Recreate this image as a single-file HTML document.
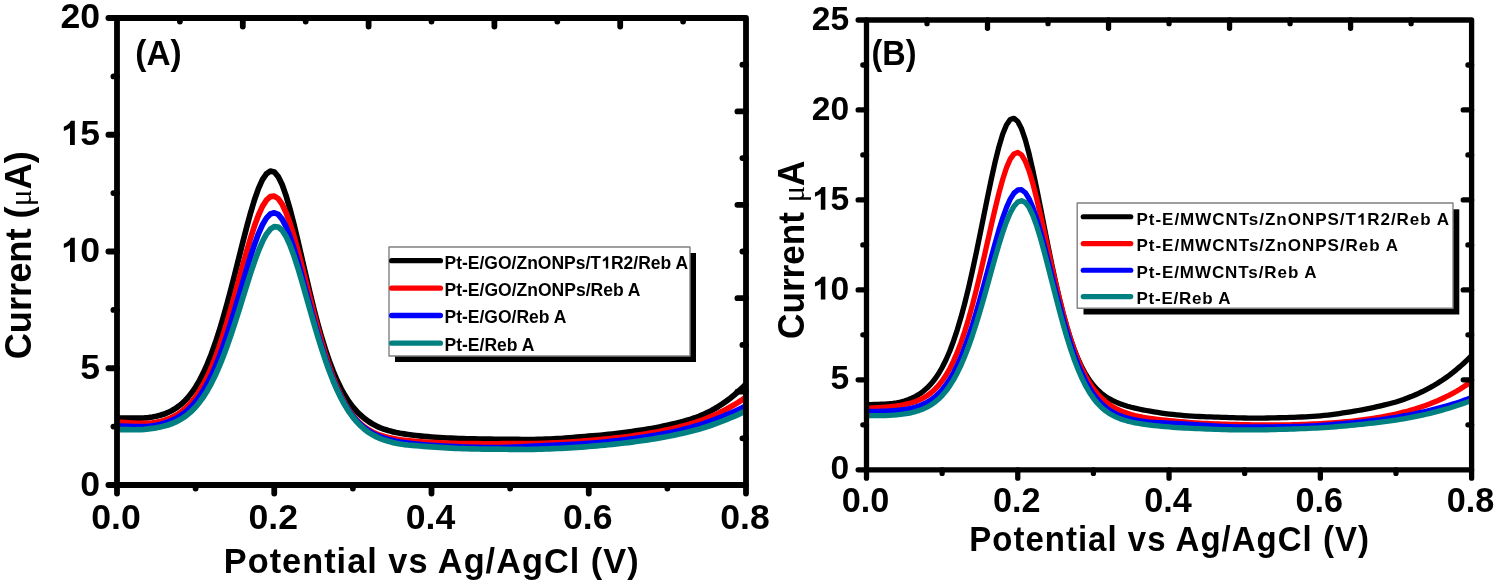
<!DOCTYPE html>
<html><head><meta charset="utf-8"><style>
html,body{margin:0;padding:0;background:#fff;}
body{width:1499px;height:586px;overflow:hidden;}
svg{display:block;will-change:transform;}
</style></head><body>
<svg width="1499" height="586" viewBox="0 0 1499 586">
<rect width="1499" height="586" fill="#fff"/>
<clipPath id="clipA"><rect x="117.0" y="18.0" width="629.0" height="467.0"/></clipPath>
<g clip-path="url(#clipA)" fill="none" stroke-width="5.7" stroke-linejoin="round" stroke-linecap="round">
<path d="M117.00,417.87 L120.93,417.98 L124.86,418.08 L128.79,418.16 L132.72,418.20 L136.66,418.20 L140.59,418.11 L144.52,417.91 L148.45,417.55 L152.38,417.01 L156.31,416.27 L160.24,415.28 L164.18,414.03 L168.11,412.47 L172.04,410.54 L175.97,408.17 L179.90,405.31 L183.83,401.85 L187.76,397.71 L191.69,392.81 L195.62,387.06 L199.56,380.37 L203.49,372.66 L207.42,363.89 L211.35,354.01 L215.28,343.03 L219.21,330.96 L223.14,317.86 L227.08,303.83 L231.01,289.03 L234.94,273.64 L238.87,257.95 L242.80,242.26 L246.73,226.99 L250.66,212.58 L254.59,199.54 L258.52,188.39 L262.46,179.65 L266.39,173.79 L270.32,171.14 L274.25,171.97 L278.18,176.53 L282.11,184.56 L286.04,195.60 L289.97,209.04 L293.91,224.26 L297.84,240.65 L301.77,257.64 L305.70,274.73 L309.63,291.50 L313.56,307.57 L317.49,322.69 L321.43,336.68 L325.36,349.46 L329.29,361.00 L333.22,371.34 L337.15,380.52 L341.08,388.58 L345.01,395.61 L348.94,401.69 L352.88,406.92 L356.81,411.41 L360.74,415.28 L364.67,418.62 L368.60,421.50 L372.53,423.98 L376.46,426.08 L380.39,427.86 L384.32,429.33 L388.26,430.56 L392.19,431.60 L396.12,432.47 L400.05,433.23 L403.98,433.89 L407.91,434.48 L411.84,435.02 L415.77,435.51 L419.71,435.94 L423.64,436.33 L427.57,436.68 L431.50,437.00 L435.43,437.28 L439.36,437.54 L443.29,437.78 L447.22,437.99 L451.16,438.18 L455.09,438.35 L459.02,438.51 L462.95,438.64 L466.88,438.76 L470.81,438.87 L474.74,438.96 L478.67,439.04 L482.61,439.11 L486.54,439.16 L490.47,439.20 L494.40,439.23 L498.33,439.26 L502.26,439.27 L506.19,439.29 L510.12,439.32 L514.06,439.37 L517.99,439.44 L521.92,439.52 L525.85,439.56 L529.78,439.56 L533.71,439.52 L537.64,439.44 L541.58,439.34 L545.51,439.22 L549.44,439.08 L553.37,438.91 L557.30,438.71 L561.23,438.48 L565.16,438.21 L569.09,437.90 L573.02,437.56 L576.96,437.20 L580.89,436.86 L584.82,436.53 L588.75,436.21 L592.68,435.90 L596.61,435.57 L600.54,435.22 L604.47,434.84 L608.41,434.42 L612.34,433.97 L616.27,433.49 L620.20,433.01 L624.13,432.51 L628.06,432.00 L631.99,431.48 L635.92,430.93 L639.86,430.36 L643.79,429.76 L647.72,429.12 L651.65,428.44 L655.58,427.71 L659.51,426.94 L663.44,426.12 L667.38,425.26 L671.31,424.37 L675.24,423.43 L679.17,422.45 L683.10,421.43 L687.03,420.32 L690.96,419.13 L694.89,417.81 L698.82,416.34 L702.76,414.72 L706.69,412.92 L710.62,410.94 L714.55,408.78 L718.48,406.43 L722.41,403.88 L726.34,401.14 L730.27,398.19 L734.21,395.01 L738.14,391.59 L742.07,387.90 L746.00,383.93" stroke="#000000"/>
<path d="M117.00,421.93 L120.93,422.26 L124.86,422.58 L128.79,422.88 L132.72,423.15 L136.66,423.35 L140.59,423.47 L144.52,423.45 L148.45,423.27 L152.38,422.89 L156.31,422.29 L160.24,421.46 L164.18,420.38 L168.11,419.02 L172.04,417.34 L175.97,415.29 L179.90,412.80 L183.83,409.79 L187.76,406.20 L191.69,401.93 L195.62,396.90 L199.56,391.05 L203.49,384.29 L207.42,376.55 L211.35,367.76 L215.28,357.88 L219.21,346.92 L223.14,334.92 L227.08,322.01 L231.01,308.36 L234.94,294.17 L238.87,279.70 L242.80,265.25 L246.73,251.16 L250.66,237.80 L254.59,225.61 L258.52,215.00 L262.46,206.39 L266.39,200.19 L270.32,196.68 L274.25,196.06 L278.18,198.57 L282.11,204.18 L286.04,212.59 L289.97,223.41 L293.91,236.15 L297.84,250.33 L301.77,265.45 L305.70,281.07 L309.63,296.78 L313.56,312.23 L317.49,327.14 L321.43,341.27 L325.36,354.44 L329.29,366.54 L333.22,377.49 L337.15,387.27 L341.08,395.89 L345.01,403.40 L348.94,409.86 L352.88,415.37 L356.81,420.03 L360.74,423.92 L364.67,427.15 L368.60,429.83 L372.53,432.03 L376.46,433.83 L380.39,435.32 L384.32,436.54 L388.26,437.55 L392.19,438.40 L396.12,439.11 L400.05,439.71 L403.98,440.23 L407.91,440.68 L411.84,441.07 L415.77,441.42 L419.71,441.73 L423.64,442.01 L427.57,442.26 L431.50,442.49 L435.43,442.70 L439.36,442.89 L443.29,443.05 L447.22,443.20 L451.16,443.32 L455.09,443.42 L459.02,443.51 L462.95,443.57 L466.88,443.61 L470.81,443.65 L474.74,443.68 L478.67,443.71 L482.61,443.73 L486.54,443.74 L490.47,443.75 L494.40,443.74 L498.33,443.74 L502.26,443.72 L506.19,443.71 L510.12,443.69 L514.06,443.69 L517.99,443.69 L521.92,443.70 L525.85,443.70 L529.78,443.68 L533.71,443.62 L537.64,443.53 L541.58,443.42 L545.51,443.28 L549.44,443.13 L553.37,442.97 L557.30,442.78 L561.23,442.58 L565.16,442.36 L569.09,442.11 L573.02,441.85 L576.96,441.57 L580.89,441.26 L584.82,440.94 L588.75,440.61 L592.68,440.27 L596.61,439.92 L600.54,439.55 L604.47,439.17 L608.41,438.77 L612.34,438.36 L616.27,437.92 L620.20,437.47 L624.13,437.00 L628.06,436.50 L631.99,435.98 L635.92,435.43 L639.86,434.85 L643.79,434.24 L647.72,433.60 L651.65,432.92 L655.58,432.21 L659.51,431.46 L663.44,430.66 L667.38,429.83 L671.31,428.96 L675.24,428.04 L679.17,427.08 L683.10,426.06 L687.03,424.99 L690.96,423.84 L694.89,422.61 L698.82,421.29 L702.76,419.88 L706.69,418.37 L710.62,416.76 L714.55,415.05 L718.48,413.24 L722.41,411.32 L726.34,409.28 L730.27,407.11 L734.21,404.82 L738.14,402.38 L742.07,399.78 L746.00,397.01" stroke="#ff0000"/>
<path d="M117.00,425.84 L120.93,426.06 L124.86,426.27 L128.79,426.45 L132.72,426.59 L136.66,426.67 L140.59,426.66 L144.52,426.53 L148.45,426.26 L152.38,425.82 L156.31,425.19 L160.24,424.35 L164.18,423.30 L168.11,421.99 L172.04,420.39 L175.97,418.47 L179.90,416.16 L183.83,413.40 L187.76,410.12 L191.69,406.25 L195.62,401.72 L199.56,396.47 L203.49,390.41 L207.42,383.50 L211.35,375.65 L215.28,366.82 L219.21,357.00 L223.14,346.22 L227.08,334.57 L231.01,322.17 L234.94,309.18 L238.87,295.81 L242.80,282.30 L246.73,268.95 L250.66,256.11 L254.59,244.18 L258.52,233.58 L262.46,224.76 L266.39,218.13 L270.32,214.05 L274.25,212.75 L278.18,214.44 L282.11,219.18 L286.04,226.68 L289.97,236.55 L293.91,248.30 L297.84,261.44 L301.77,275.48 L305.70,289.98 L309.63,304.56 L313.56,318.91 L317.49,332.76 L321.43,345.90 L325.36,358.20 L329.29,369.53 L333.22,379.83 L337.15,389.10 L341.08,397.33 L345.01,404.56 L348.94,410.85 L352.88,416.27 L356.81,420.90 L360.74,424.84 L364.67,428.16 L368.60,430.94 L372.53,433.28 L376.46,435.23 L380.39,436.86 L384.32,438.24 L388.26,439.39 L392.19,440.38 L396.12,441.22 L400.05,441.94 L403.98,442.57 L407.91,443.12 L411.84,443.61 L415.77,444.04 L419.71,444.43 L423.64,444.78 L427.57,445.09 L431.50,445.38 L435.43,445.64 L439.36,445.87 L443.29,446.09 L447.22,446.29 L451.16,446.47 L455.09,446.65 L459.02,446.82 L462.95,446.98 L466.88,447.12 L470.81,447.25 L474.74,447.35 L478.67,447.43 L482.61,447.49 L486.54,447.52 L490.47,447.54 L494.40,447.54 L498.33,447.52 L502.26,447.48 L506.19,447.42 L510.12,447.32 L514.06,447.19 L517.99,447.02 L521.92,446.81 L525.85,446.59 L529.78,446.37 L533.71,446.18 L537.64,446.00 L541.58,445.82 L545.51,445.64 L549.44,445.46 L553.37,445.28 L557.30,445.09 L561.23,444.89 L565.16,444.69 L569.09,444.49 L573.02,444.28 L576.96,444.07 L580.89,443.85 L584.82,443.61 L588.75,443.35 L592.68,443.05 L596.61,442.72 L600.54,442.36 L604.47,441.98 L608.41,441.58 L612.34,441.16 L616.27,440.72 L620.20,440.26 L624.13,439.78 L628.06,439.29 L631.99,438.77 L635.92,438.23 L639.86,437.67 L643.79,437.09 L647.72,436.50 L651.65,435.88 L655.58,435.24 L659.51,434.56 L663.44,433.84 L667.38,433.08 L671.31,432.27 L675.24,431.41 L679.17,430.50 L683.10,429.54 L687.03,428.53 L690.96,427.46 L694.89,426.32 L698.82,425.11 L702.76,423.84 L706.69,422.50 L710.62,421.11 L714.55,419.66 L718.48,418.16 L722.41,416.61 L726.34,415.01 L730.27,413.34 L734.21,411.60 L738.14,409.76 L742.07,407.83 L746.00,405.78" stroke="#0000ff"/>
<path d="M117.00,429.46 L120.93,429.57 L124.86,429.66 L128.79,429.72 L132.72,429.74 L136.66,429.69 L140.59,429.55 L144.52,429.31 L148.45,428.94 L152.38,428.45 L156.31,427.82 L160.24,427.04 L164.18,426.09 L168.11,424.94 L172.04,423.55 L175.97,421.86 L179.90,419.83 L183.83,417.39 L187.76,414.47 L191.69,411.02 L195.62,406.95 L199.56,402.20 L203.49,396.72 L207.42,390.44 L211.35,383.31 L215.28,375.31 L219.21,366.41 L223.14,356.66 L227.08,346.09 L231.01,334.79 L234.94,322.89 L238.87,310.53 L242.80,297.92 L246.73,285.32 L250.66,273.00 L254.59,261.33 L258.52,250.69 L262.46,241.51 L266.39,234.21 L270.32,229.17 L274.25,226.69 L278.18,226.97 L282.11,230.25 L286.04,236.39 L289.97,245.00 L293.91,255.63 L297.84,267.76 L301.77,280.90 L305.70,294.60 L309.63,308.46 L313.56,322.16 L317.49,335.44 L321.43,348.10 L325.36,359.97 L329.29,370.96 L333.22,381.00 L337.15,390.07 L341.08,398.16 L345.01,405.34 L348.94,411.64 L352.88,417.13 L356.81,421.89 L360.74,425.96 L364.67,429.43 L368.60,432.36 L372.53,434.82 L376.46,436.89 L380.39,438.62 L384.32,440.08 L388.26,441.31 L392.19,442.35 L396.12,443.23 L400.05,443.95 L403.98,444.55 L407.91,445.02 L411.84,445.39 L415.77,445.70 L419.71,445.99 L423.64,446.29 L427.57,446.59 L431.50,446.89 L435.43,447.17 L439.36,447.44 L443.29,447.69 L447.22,447.93 L451.16,448.14 L455.09,448.34 L459.02,448.51 L462.95,448.66 L466.88,448.77 L470.81,448.86 L474.74,448.94 L478.67,449.00 L482.61,449.05 L486.54,449.10 L490.47,449.14 L494.40,449.17 L498.33,449.20 L502.26,449.23 L506.19,449.26 L510.12,449.30 L514.06,449.36 L517.99,449.42 L521.92,449.47 L525.85,449.48 L529.78,449.44 L533.71,449.37 L537.64,449.27 L541.58,449.15 L545.51,449.01 L549.44,448.86 L553.37,448.69 L557.30,448.51 L561.23,448.31 L565.16,448.10 L569.09,447.87 L573.02,447.63 L576.96,447.38 L580.89,447.11 L584.82,446.82 L588.75,446.52 L592.68,446.20 L596.61,445.87 L600.54,445.51 L604.47,445.14 L608.41,444.75 L612.34,444.35 L616.27,443.93 L620.20,443.49 L624.13,443.03 L628.06,442.56 L631.99,442.06 L635.92,441.54 L639.86,441.00 L643.79,440.43 L647.72,439.84 L651.65,439.22 L655.58,438.58 L659.51,437.90 L663.44,437.20 L667.38,436.46 L671.31,435.70 L675.24,434.91 L679.17,434.08 L683.10,433.22 L687.03,432.31 L690.96,431.34 L694.89,430.31 L698.82,429.20 L702.76,428.02 L706.69,426.76 L710.62,425.44 L714.55,424.06 L718.48,422.62 L722.41,421.12 L726.34,419.58 L730.27,417.97 L734.21,416.29 L738.14,414.54 L742.07,412.70 L746.00,410.77" stroke="#008080"/>
</g>
<g stroke="#000" stroke-width="5.8" stroke-linecap="round" fill="none">
<path d="M117.0,485.0 L117.0,18.0 L746.0,18.0 L746.0,485.0 Z" stroke-linejoin="round"/>
<path d="M117.0,485.00 L108.40,485.00 M117.0,368.25 L108.40,368.25 M117.0,251.50 L108.40,251.50 M117.0,134.75 L108.40,134.75 M117.0,18.00 L108.40,18.00 M117.0,426.62 L113.40,426.62 M117.0,309.88 L113.40,309.88 M117.0,193.12 L113.40,193.12 M117.0,76.38 L113.40,76.38 M117.00,485.0 L117.00,493.60 M195.62,485.0 L195.62,488.60 M274.25,485.0 L274.25,493.60 M352.88,485.0 L352.88,488.60 M431.50,485.0 L431.50,493.60 M510.12,485.0 L510.12,488.60 M588.75,485.0 L588.75,493.60 M667.38,485.0 L667.38,488.60 M746.00,485.0 L746.00,493.60 M179.90,18.0 L179.90,21.60 M242.80,18.0 L242.80,26.60 M305.70,18.0 L305.70,21.60 M368.60,18.0 L368.60,26.60 M431.50,18.0 L431.50,21.60 M494.40,18.0 L494.40,26.60 M557.30,18.0 L557.30,21.60 M620.20,18.0 L620.20,26.60 M683.10,18.0 L683.10,21.60 M746.0,64.70 L742.40,64.70 M746.0,111.40 L737.40,111.40 M746.0,158.10 L742.40,158.10 M746.0,204.80 L737.40,204.80 M746.0,251.50 L742.40,251.50 M746.0,298.20 L737.40,298.20 M746.0,344.90 L742.40,344.90 M746.0,391.60 L737.40,391.60 M746.0,438.30 L742.40,438.30"/>
</g>
<clipPath id="clipB"><rect x="866.5" y="20.0" width="605.0999999999999" height="449.8"/></clipPath>
<g clip-path="url(#clipB)" fill="none" stroke-width="5.3" stroke-linejoin="round" stroke-linecap="round">
<path d="M866.50,404.72 L870.28,404.61 L874.06,404.51 L877.85,404.39 L881.63,404.24 L885.41,404.03 L889.19,403.74 L892.97,403.32 L896.75,402.76 L900.54,402.00 L904.32,401.03 L908.10,399.78 L911.88,398.24 L915.66,396.36 L919.45,394.09 L923.23,391.36 L927.01,388.08 L930.79,384.17 L934.57,379.51 L938.36,374.00 L942.14,367.52 L945.92,359.97 L949.70,351.22 L953.48,341.20 L957.26,329.85 L961.05,317.11 L964.83,302.98 L968.61,287.53 L972.39,270.88 L976.17,253.22 L979.96,234.82 L983.74,216.04 L987.52,197.30 L991.30,179.11 L995.08,162.10 L998.87,146.94 L1002.65,134.36 L1006.43,125.05 L1010.21,119.58 L1013.99,118.33 L1017.77,121.46 L1021.56,128.81 L1025.34,139.89 L1029.12,154.05 L1032.90,170.53 L1036.68,188.59 L1040.47,207.56 L1044.25,226.83 L1048.03,245.92 L1051.81,264.41 L1055.59,281.98 L1059.38,298.38 L1063.16,313.44 L1066.94,327.07 L1070.72,339.25 L1074.50,350.01 L1078.29,359.41 L1082.07,367.53 L1085.85,374.49 L1089.63,380.39 L1093.41,385.37 L1097.19,389.53 L1100.98,393.01 L1104.76,395.92 L1108.54,398.36 L1112.32,400.41 L1116.10,402.16 L1119.89,403.68 L1123.67,405.01 L1127.45,406.18 L1131.23,407.23 L1135.01,408.17 L1138.80,409.02 L1142.58,409.79 L1146.36,410.50 L1150.14,411.17 L1153.92,411.81 L1157.70,412.43 L1161.49,413.02 L1165.27,413.57 L1169.05,414.06 L1172.83,414.49 L1176.61,414.88 L1180.40,415.23 L1184.18,415.54 L1187.96,415.83 L1191.74,416.09 L1195.52,416.32 L1199.30,416.52 L1203.09,416.68 L1206.87,416.82 L1210.65,416.93 L1214.43,417.04 L1218.21,417.15 L1222.00,417.29 L1225.78,417.44 L1229.56,417.59 L1233.34,417.72 L1237.12,417.84 L1240.91,417.93 L1244.69,418.01 L1248.47,418.07 L1252.25,418.11 L1256.03,418.12 L1259.82,418.12 L1263.60,418.08 L1267.38,418.02 L1271.16,417.94 L1274.94,417.84 L1278.72,417.74 L1282.51,417.65 L1286.29,417.55 L1290.07,417.44 L1293.85,417.32 L1297.63,417.18 L1301.42,417.01 L1305.20,416.82 L1308.98,416.61 L1312.76,416.37 L1316.54,416.10 L1320.32,415.79 L1324.11,415.45 L1327.89,415.04 L1331.67,414.58 L1335.45,414.06 L1339.23,413.51 L1343.02,412.94 L1346.80,412.35 L1350.58,411.76 L1354.36,411.14 L1358.14,410.49 L1361.93,409.82 L1365.71,409.10 L1369.49,408.34 L1373.27,407.55 L1377.05,406.71 L1380.84,405.84 L1384.62,404.94 L1388.40,403.99 L1392.18,403.00 L1395.96,401.93 L1399.74,400.75 L1403.53,399.46 L1407.31,398.07 L1411.09,396.58 L1414.87,394.99 L1418.65,393.30 L1422.44,391.52 L1426.22,389.62 L1430.00,387.62 L1433.78,385.49 L1437.56,383.23 L1441.34,380.83 L1445.13,378.27 L1448.91,375.55 L1452.69,372.66 L1456.47,369.61 L1460.25,366.38 L1464.04,362.97 L1467.82,359.37 L1471.60,355.58" stroke="#000000"/>
<path d="M866.50,408.28 L870.28,408.13 L874.06,407.94 L877.85,407.72 L881.63,407.46 L885.41,407.15 L889.19,406.79 L892.97,406.36 L896.75,405.86 L900.54,405.26 L904.32,404.56 L908.10,403.71 L911.88,402.69 L915.66,401.44 L919.45,399.91 L923.23,398.04 L927.01,395.76 L930.79,393.00 L934.57,389.67 L938.36,385.68 L942.14,380.93 L945.92,375.31 L949.70,368.73 L953.48,361.09 L957.26,352.32 L961.05,342.34 L964.83,331.14 L968.61,318.72 L972.39,305.12 L976.17,290.46 L979.96,274.88 L983.74,258.60 L987.52,241.90 L991.30,225.14 L995.08,208.79 L998.87,193.37 L1002.65,179.52 L1006.43,167.89 L1010.21,159.15 L1013.99,153.86 L1017.77,152.37 L1021.56,154.89 L1025.34,161.27 L1029.12,171.10 L1032.90,183.77 L1036.68,198.57 L1040.47,214.81 L1044.25,231.87 L1048.03,249.20 L1051.81,266.35 L1055.59,282.95 L1059.38,298.74 L1063.16,313.49 L1066.94,327.07 L1070.72,339.42 L1074.50,350.50 L1078.29,360.35 L1082.07,369.01 L1085.85,376.55 L1089.63,383.07 L1093.41,388.67 L1097.19,393.44 L1100.98,397.51 L1104.76,400.98 L1108.54,403.93 L1112.32,406.45 L1116.10,408.60 L1119.89,410.44 L1123.67,412.01 L1127.45,413.35 L1131.23,414.50 L1135.01,415.50 L1138.80,416.36 L1142.58,417.12 L1146.36,417.79 L1150.14,418.39 L1153.92,418.91 L1157.70,419.39 L1161.49,419.82 L1165.27,420.23 L1169.05,420.62 L1172.83,420.99 L1176.61,421.35 L1180.40,421.68 L1184.18,422.00 L1187.96,422.30 L1191.74,422.57 L1195.52,422.83 L1199.30,423.07 L1203.09,423.29 L1206.87,423.49 L1210.65,423.66 L1214.43,423.82 L1218.21,423.96 L1222.00,424.09 L1225.78,424.21 L1229.56,424.32 L1233.34,424.43 L1237.12,424.52 L1240.91,424.60 L1244.69,424.68 L1248.47,424.74 L1252.25,424.80 L1256.03,424.84 L1259.82,424.88 L1263.60,424.91 L1267.38,424.93 L1271.16,424.94 L1274.94,424.94 L1278.72,424.93 L1282.51,424.90 L1286.29,424.85 L1290.07,424.78 L1293.85,424.70 L1297.63,424.59 L1301.42,424.48 L1305.20,424.34 L1308.98,424.19 L1312.76,424.02 L1316.54,423.84 L1320.32,423.64 L1324.11,423.42 L1327.89,423.18 L1331.67,422.92 L1335.45,422.64 L1339.23,422.34 L1343.02,422.01 L1346.80,421.66 L1350.58,421.28 L1354.36,420.87 L1358.14,420.43 L1361.93,419.97 L1365.71,419.46 L1369.49,418.93 L1373.27,418.35 L1377.05,417.74 L1380.84,417.09 L1384.62,416.39 L1388.40,415.65 L1392.18,414.86 L1395.96,414.02 L1399.74,413.13 L1403.53,412.19 L1407.31,411.20 L1411.09,410.14 L1414.87,409.02 L1418.65,407.83 L1422.44,406.57 L1426.22,405.23 L1430.00,403.82 L1433.78,402.31 L1437.56,400.72 L1441.34,399.03 L1445.13,397.24 L1448.91,395.34 L1452.69,393.32 L1456.47,391.19 L1460.25,388.93 L1464.04,386.54 L1467.82,384.00 L1471.60,381.31" stroke="#ff0000"/>
<path d="M866.50,411.54 L870.28,411.49 L874.06,411.43 L877.85,411.34 L881.63,411.22 L885.41,411.07 L889.19,410.88 L892.97,410.63 L896.75,410.32 L900.54,409.93 L904.32,409.43 L908.10,408.79 L911.88,408.00 L915.66,407.01 L919.45,405.77 L923.23,404.23 L927.01,402.34 L930.79,400.03 L934.57,397.21 L938.36,393.81 L942.14,389.75 L945.92,384.93 L949.70,379.28 L953.48,372.72 L957.26,365.20 L961.05,356.66 L964.83,347.09 L968.61,336.51 L972.39,324.95 L976.17,312.51 L979.96,299.31 L983.74,285.54 L987.52,271.42 L991.30,257.24 L995.08,243.35 L998.87,230.15 L1002.65,218.07 L1006.43,207.57 L1010.21,199.12 L1013.99,193.12 L1017.77,189.92 L1021.56,189.71 L1025.34,192.71 L1029.12,198.79 L1032.90,207.60 L1036.68,218.68 L1040.47,231.50 L1044.25,245.56 L1048.03,260.36 L1051.81,275.45 L1055.59,290.44 L1059.38,305.03 L1063.16,318.95 L1066.94,332.01 L1070.72,344.08 L1074.50,355.08 L1078.29,364.96 L1082.07,373.74 L1085.85,381.45 L1089.63,388.16 L1093.41,393.93 L1097.19,398.87 L1100.98,403.05 L1104.76,406.56 L1108.54,409.49 L1112.32,411.92 L1116.10,413.94 L1119.89,415.60 L1123.67,416.99 L1127.45,418.14 L1131.23,419.10 L1135.01,419.92 L1138.80,420.61 L1142.58,421.19 L1146.36,421.67 L1150.14,422.05 L1153.92,422.33 L1157.70,422.54 L1161.49,422.71 L1165.27,422.88 L1169.05,423.08 L1172.83,423.29 L1176.61,423.51 L1180.40,423.74 L1184.18,423.96 L1187.96,424.18 L1191.74,424.39 L1195.52,424.60 L1199.30,424.81 L1203.09,425.03 L1206.87,425.27 L1210.65,425.53 L1214.43,425.80 L1218.21,426.07 L1222.00,426.30 L1225.78,426.48 L1229.56,426.61 L1233.34,426.72 L1237.12,426.79 L1240.91,426.85 L1244.69,426.90 L1248.47,426.93 L1252.25,426.94 L1256.03,426.95 L1259.82,426.93 L1263.60,426.91 L1267.38,426.87 L1271.16,426.83 L1274.94,426.78 L1278.72,426.75 L1282.51,426.71 L1286.29,426.65 L1290.07,426.59 L1293.85,426.50 L1297.63,426.40 L1301.42,426.28 L1305.20,426.14 L1308.98,425.98 L1312.76,425.81 L1316.54,425.61 L1320.32,425.39 L1324.11,425.14 L1327.89,424.87 L1331.67,424.56 L1335.45,424.24 L1339.23,423.91 L1343.02,423.57 L1346.80,423.24 L1350.58,422.90 L1354.36,422.54 L1358.14,422.17 L1361.93,421.78 L1365.71,421.37 L1369.49,420.94 L1373.27,420.49 L1377.05,420.02 L1380.84,419.53 L1384.62,419.01 L1388.40,418.47 L1392.18,417.89 L1395.96,417.28 L1399.74,416.63 L1403.53,415.95 L1407.31,415.24 L1411.09,414.50 L1414.87,413.74 L1418.65,412.94 L1422.44,412.10 L1426.22,411.24 L1430.00,410.34 L1433.78,409.40 L1437.56,408.43 L1441.34,407.43 L1445.13,406.39 L1448.91,405.30 L1452.69,404.15 L1456.47,402.94 L1460.25,401.68 L1464.04,400.35 L1467.82,398.96 L1471.60,397.51" stroke="#0000ff"/>
<path d="M866.50,415.64 L870.28,415.67 L874.06,415.68 L877.85,415.67 L881.63,415.63 L885.41,415.54 L889.19,415.39 L892.97,415.17 L896.75,414.86 L900.54,414.46 L904.32,413.95 L908.10,413.31 L911.88,412.53 L915.66,411.57 L919.45,410.40 L923.23,408.95 L927.01,407.19 L930.79,405.04 L934.57,402.44 L938.36,399.30 L942.14,395.55 L945.92,391.12 L949.70,385.91 L953.48,379.87 L957.26,372.92 L961.05,365.03 L964.83,356.16 L968.61,346.32 L972.39,335.54 L976.17,323.87 L979.96,311.44 L983.74,298.39 L987.52,284.92 L991.30,271.27 L995.08,257.77 L998.87,244.76 L1002.65,232.66 L1006.43,221.89 L1010.21,212.92 L1013.99,206.18 L1017.77,202.02 L1021.56,200.69 L1025.34,202.49 L1029.12,207.53 L1032.90,215.50 L1036.68,225.92 L1040.47,238.26 L1044.25,251.96 L1048.03,266.49 L1051.81,281.38 L1055.59,296.22 L1059.38,310.68 L1063.16,324.49 L1066.94,337.44 L1070.72,349.40 L1074.50,360.28 L1078.29,370.03 L1082.07,378.66 L1085.85,386.20 L1089.63,392.71 L1093.41,398.27 L1097.19,402.98 L1100.98,406.93 L1104.76,410.23 L1108.54,412.96 L1112.32,415.23 L1116.10,417.11 L1119.89,418.67 L1123.67,419.98 L1127.45,421.07 L1131.23,422.00 L1135.01,422.79 L1138.80,423.48 L1142.58,424.08 L1146.36,424.62 L1150.14,425.11 L1153.92,425.55 L1157.70,425.96 L1161.49,426.33 L1165.27,426.67 L1169.05,426.98 L1172.83,427.27 L1176.61,427.52 L1180.40,427.76 L1184.18,427.98 L1187.96,428.18 L1191.74,428.37 L1195.52,428.54 L1199.30,428.71 L1203.09,428.86 L1206.87,429.01 L1210.65,429.16 L1214.43,429.30 L1218.21,429.44 L1222.00,429.56 L1225.78,429.67 L1229.56,429.76 L1233.34,429.83 L1237.12,429.88 L1240.91,429.92 L1244.69,429.95 L1248.47,429.96 L1252.25,429.95 L1256.03,429.93 L1259.82,429.90 L1263.60,429.84 L1267.38,429.77 L1271.16,429.69 L1274.94,429.58 L1278.72,429.47 L1282.51,429.36 L1286.29,429.24 L1290.07,429.12 L1293.85,429.00 L1297.63,428.86 L1301.42,428.72 L1305.20,428.57 L1308.98,428.40 L1312.76,428.22 L1316.54,428.03 L1320.32,427.81 L1324.11,427.58 L1327.89,427.33 L1331.67,427.05 L1335.45,426.76 L1339.23,426.45 L1343.02,426.13 L1346.80,425.79 L1350.58,425.45 L1354.36,425.09 L1358.14,424.71 L1361.93,424.32 L1365.71,423.92 L1369.49,423.49 L1373.27,423.05 L1377.05,422.59 L1380.84,422.11 L1384.62,421.62 L1388.40,421.12 L1392.18,420.59 L1395.96,420.04 L1399.74,419.45 L1403.53,418.82 L1407.31,418.14 L1411.09,417.44 L1414.87,416.69 L1418.65,415.91 L1422.44,415.09 L1426.22,414.24 L1430.00,413.34 L1433.78,412.40 L1437.56,411.42 L1441.34,410.39 L1445.13,409.31 L1448.91,408.19 L1452.69,407.03 L1456.47,405.82 L1460.25,404.56 L1464.04,403.24 L1467.82,401.87 L1471.60,400.45" stroke="#008080"/>
</g>
<g stroke="#000" stroke-width="5.3" stroke-linecap="round" fill="none">
<path d="M866.5,469.8 L866.5,20.0 L1471.6,20.0 L1471.6,469.8 Z" stroke-linejoin="round"/>
<path d="M866.5,469.80 L858.15,469.80 M866.5,379.84 L858.15,379.84 M866.5,289.88 L858.15,289.88 M866.5,199.92 L858.15,199.92 M866.5,109.96 L858.15,109.96 M866.5,20.00 L858.15,20.00 M866.5,424.82 L862.85,424.82 M866.5,334.86 L862.85,334.86 M866.5,244.90 L862.85,244.90 M866.5,154.94 L862.85,154.94 M866.5,64.98 L862.85,64.98 M866.50,469.8 L866.50,478.15 M942.14,469.8 L942.14,473.45 M1017.77,469.8 L1017.77,478.15 M1093.41,469.8 L1093.41,473.45 M1169.05,469.8 L1169.05,478.15 M1244.69,469.8 L1244.69,473.45 M1320.33,469.8 L1320.33,478.15 M1395.96,469.8 L1395.96,473.45 M1471.60,469.8 L1471.60,478.15 M927.01,20.0 L927.01,23.65 M987.52,20.0 L987.52,28.35 M1048.03,20.0 L1048.03,23.65 M1108.54,20.0 L1108.54,28.35 M1169.05,20.0 L1169.05,23.65 M1229.56,20.0 L1229.56,28.35 M1290.07,20.0 L1290.07,23.65 M1350.58,20.0 L1350.58,28.35 M1411.09,20.0 L1411.09,23.65 M1471.6,64.98 L1467.95,64.98 M1471.6,109.96 L1463.25,109.96 M1471.6,154.94 L1467.95,154.94 M1471.6,199.92 L1463.25,199.92 M1471.6,244.90 L1467.95,244.90 M1471.6,289.88 L1463.25,289.88 M1471.6,334.86 L1467.95,334.86 M1471.6,379.84 L1463.25,379.84 M1471.6,424.82 L1467.95,424.82"/>
</g>
<g font-family='"Liberation Sans", sans-serif' font-weight="bold" fill="#000">
<text x="100.1" y="496.05" font-size="35.6" text-anchor="end" >0</text>
<text x="100.1" y="379.0" font-size="35.6" text-anchor="end" >5</text>
<path d="M0.267 0L0.402 0L0.402 0.68L0.29 0.68Q0.25 0.585 0.093 0.51L0.093 0.39Q0.19 0.425 0.267 0.475Z" transform="translate(60.51,261.95) scale(35.6,-35.6)"/>
<text x="100.1" y="261.95" font-size="35.6" text-anchor="end" >0</text>
<path d="M0.267 0L0.402 0L0.402 0.68L0.29 0.68Q0.25 0.585 0.093 0.51L0.093 0.39Q0.19 0.425 0.267 0.475Z" transform="translate(60.51,144.90) scale(35.6,-35.6)"/>
<text x="100.1" y="144.9" font-size="35.6" text-anchor="end" >5</text>
<text x="100.1" y="27.85" font-size="35.6" text-anchor="end" >20</text>
<text x="116.0" y="529.4" font-size="35.6" text-anchor="middle" >0.0</text>
<text x="273.25" y="529.4" font-size="35.6" text-anchor="middle" >0.2</text>
<text x="430.5" y="529.4" font-size="35.6" text-anchor="middle" >0.4</text>
<text x="587.75" y="529.4" font-size="35.6" text-anchor="middle" >0.6</text>
<text x="745.0" y="529.4" font-size="35.6" text-anchor="middle" >0.8</text>
<text x="849.2" y="479.3" font-size="33.6" text-anchor="end" >0</text>
<text x="849.2" y="389.45" font-size="33.6" text-anchor="end" >5</text>
<path d="M0.267 0L0.402 0L0.402 0.68L0.29 0.68Q0.25 0.585 0.093 0.51L0.093 0.39Q0.19 0.425 0.267 0.475Z" transform="translate(811.84,299.60) scale(33.6,-33.6)"/>
<text x="849.2" y="299.6" font-size="33.6" text-anchor="end" >0</text>
<path d="M0.267 0L0.402 0L0.402 0.68L0.29 0.68Q0.25 0.585 0.093 0.51L0.093 0.39Q0.19 0.425 0.267 0.475Z" transform="translate(811.84,209.75) scale(33.6,-33.6)"/>
<text x="849.2" y="209.75" font-size="33.6" text-anchor="end" >5</text>
<text x="849.2" y="119.9" font-size="33.6" text-anchor="end" >20</text>
<text x="849.2" y="30.05" font-size="33.6" text-anchor="end" >25</text>
<text x="865.5" y="512.3" font-size="34.2" text-anchor="middle" >0.0</text>
<text x="1016.77" y="512.3" font-size="34.2" text-anchor="middle" >0.2</text>
<text x="1168.05" y="512.3" font-size="34.2" text-anchor="middle" >0.4</text>
<text x="1319.33" y="512.3" font-size="34.2" text-anchor="middle" >0.6</text>
<text x="1470.6" y="512.3" font-size="34.2" text-anchor="middle" >0.8</text>
<text transform="translate(223.8,573.1) scale(1,1.045)" x="0" y="0" font-size="34.3" textLength="414.8" lengthAdjust="spacing">Potential vs Ag/AgCl (V)</text>
<text transform="translate(969.2,550.5) scale(1,1.045)" x="0" y="0" font-size="33.0" textLength="399.8" lengthAdjust="spacing">Potential vs Ag/AgCl (V)</text>
<text transform="translate(30.6,359.3) rotate(-90)" font-size="37" textLength="208" lengthAdjust="spacingAndGlyphs">Current (<tspan font-family='"Liberation Serif", serif' font-weight="normal" font-size="32">μ</tspan>A)</text>
<text transform="translate(803.9,339) rotate(-90)" font-size="36.5" textLength="178.5" lengthAdjust="spacingAndGlyphs">Current <tspan font-family='"Liberation Serif", serif' font-weight="normal" font-size="31.5">μ</tspan>A</text>
<text x="135.3" y="65.2" font-size="35.3" text-anchor="start" textLength="46.3" lengthAdjust="spacingAndGlyphs">(A)</text>
<text x="871.5" y="65.2" font-size="35.3" text-anchor="start" textLength="45" lengthAdjust="spacingAndGlyphs">(B)</text>
</g>
<rect x="395" y="253" width="301" height="109" fill="#000"/>
<rect x="389" y="247" width="301" height="109" fill="#fff" stroke="#808080" stroke-width="1.4" stroke-linejoin="round"/>
<line x1="391.7" y1="260.7" x2="440.4" y2="260.7" stroke="#000000" stroke-width="5.3" stroke-linecap="round"/>
<g transform="translate(444.5,268.60) scale(0.9895,1)" font-family='"Liberation Sans", sans-serif' font-weight="bold" font-size="17.7" letter-spacing="0.000">
<text x="0" y="0">Pt-E/GO/ZnONPs/T</text>
<path d="M0.267 0L0.402 0L0.402 0.68L0.29 0.68Q0.25 0.585 0.093 0.51L0.093 0.39Q0.19 0.425 0.267 0.475Z" transform="translate(158.32,0) scale(17.7,-17.7)"/>
<text x="168.17" y="0">R2/Reb A</text>
</g>
<line x1="391.7" y1="288.2" x2="440.4" y2="288.2" stroke="#ff0000" stroke-width="5.3" stroke-linecap="round"/>
<g transform="translate(444.5,295.80) scale(0.9899,1)" font-family='"Liberation Sans", sans-serif' font-weight="bold" font-size="17.7" letter-spacing="0.000">
<text x="0" y="0">Pt-E/GO/ZnONPs/Reb A</text>
</g>
<line x1="391.7" y1="315.5" x2="440.4" y2="315.5" stroke="#0000ff" stroke-width="5.3" stroke-linecap="round"/>
<g transform="translate(444.5,323.10) scale(0.9898,1)" font-family='"Liberation Sans", sans-serif' font-weight="bold" font-size="17.7" letter-spacing="0.000">
<text x="0" y="0">Pt-E/GO/Reb A</text>
</g>
<line x1="391.7" y1="343.2" x2="440.4" y2="343.2" stroke="#008080" stroke-width="5.3" stroke-linecap="round"/>
<g transform="translate(444.5,350.80) scale(0.9912,1)" font-family='"Liberation Sans", sans-serif' font-weight="bold" font-size="17.7" letter-spacing="0.000">
<text x="0" y="0">Pt-E/Reb A</text>
</g>
<rect x="1083.5" y="209.3" width="375.79999999999995" height="105.19999999999999" fill="#000"/>
<rect x="1077.2" y="203" width="375.79999999999995" height="105.19999999999999" fill="#fff" stroke="#808080" stroke-width="1.4" stroke-linejoin="round"/>
<line x1="1083.2" y1="216.8" x2="1130.8" y2="216.8" stroke="#000000" stroke-width="5.1" stroke-linecap="round"/>
<g transform="translate(1136.5,224.80) scale(1.0000,1)" font-family='"Liberation Sans", sans-serif' font-weight="bold" font-size="17" letter-spacing="0.974">
<text x="0" y="0">Pt-E/MWCNTs/ZnONPS/T</text>
<path d="M0.267 0L0.402 0L0.402 0.68L0.29 0.68Q0.25 0.585 0.093 0.51L0.093 0.39Q0.19 0.425 0.267 0.475Z" transform="translate(220.32,0) scale(17,-17)"/>
<text x="230.74" y="0">R2/Reb A</text>
</g>
<line x1="1083.2" y1="243.6" x2="1130.8" y2="243.6" stroke="#ff0000" stroke-width="5.1" stroke-linecap="round"/>
<g transform="translate(1136.5,251.00) scale(1.0000,1)" font-family='"Liberation Sans", sans-serif' font-weight="bold" font-size="17" letter-spacing="0.981">
<text x="0" y="0">Pt-E/MWCNTs/ZnONPS/Reb A</text>
</g>
<line x1="1083.2" y1="270.2" x2="1130.8" y2="270.2" stroke="#0000ff" stroke-width="5.1" stroke-linecap="round"/>
<g transform="translate(1136.5,277.60) scale(1.0000,1)" font-family='"Liberation Sans", sans-serif' font-weight="bold" font-size="17" letter-spacing="0.921">
<text x="0" y="0">Pt-E/MWCNTs/Reb A</text>
</g>
<line x1="1083.2" y1="296.6" x2="1130.8" y2="296.6" stroke="#008080" stroke-width="5.1" stroke-linecap="round"/>
<g transform="translate(1136.5,303.60) scale(1.0000,1)" font-family='"Liberation Sans", sans-serif' font-weight="bold" font-size="17" letter-spacing="0.755">
<text x="0" y="0">Pt-E/Reb A</text>
</g>
</svg>
</body></html>
